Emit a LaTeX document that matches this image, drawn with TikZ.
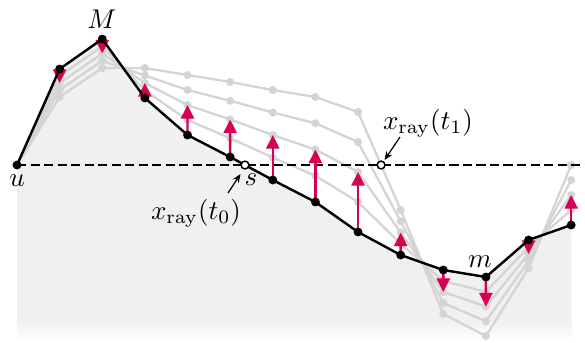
\documentclass[tikz,border=0pt]{standalone}
\usetikzlibrary{calc,arrows.meta}
\definecolor{fillgray}{RGB}{240,240,240}
\definecolor{linegray}{RGB}{212,212,212}
\definecolor{arrred}{RGB}{214,0,84}
\tikzset{
  grayline/.style={draw=linegray,line width=0.85pt,line join=round},
  graydot/.style={fill=linegray},
  blackline/.style={draw=black,line width=0.9pt,line join=round},
  redarrow/.style={draw=arrred,line width=0.9pt,-{Triangle[width=4.8pt,length=5pt]}},
  rayline/.style={draw=black,line width=0.65pt,dash pattern=on 3.4pt off 1.6pt},
  opendot/.style={draw=black,fill=white,line width=0.55pt},
  pointer/.style={draw=black,line width=0.45pt,-{Stealth[length=3.2pt,width=2.6pt]}},
  lbl/.style={inner sep=0pt}
}
\begin{document}
\begin{tikzpicture}[x=0.37pt,y=-0.37pt]
\useasboundingbox (0,0) rectangle (585,342);
% black polyline (b) and target polyline (t)
\foreach \bb/\tt [count=\i from 0] in {165/165,69/97,39/68,98/68,135/75,157/82,180/90,202/97,232/112,255/210,270/314,277/336,240/268,225/165}{
  \coordinate (b\i) at ({17+42.63*\i},\bb);
  \coordinate (t\i) at ({17+42.63*\i},\tt);
}
\foreach \k in {1,...,4}{
  \foreach \i in {0,...,13}{
    \coordinate (g\k-\i) at ($(b\i)!\k/4!(t\i)$);
  }
}
% background fill
\fill[fillgray] (b0) \foreach \i in {1,...,13}{ -- (b\i)} -- (571.6,321) -- (17,321) -- cycle;
\shade[top color=fillgray,bottom color=white,draw=none] (17,320.5) rectangle (571.6,340);
% gray intermediate lines
\foreach \k in {4,3,2,1}{
  \draw[grayline] (g\k-0) \foreach \i in {1,...,13}{ -- (g\k-\i)};
  \foreach \i in {1,...,13}{ \fill[graydot] (g\k-\i) circle[radius=1.5pt]; }
}
% ray
\coordinate (rayend) at (585,165);
\draw[rayline] (b0) -- (rayend);
% red arrows
\foreach \i in {1,...,13}{ \draw[redarrow] (b\i) -- (g2-\i); }
% black line
\draw[blackline] (b0) \foreach \i in {1,...,13}{ -- (b\i)};
\foreach \i in {0,...,13}{ \fill (b\i) circle[radius=1.65pt]; }
% intersection points
\coordinate (s) at (intersection of b5--b6 and b0--rayend);
\coordinate (x1) at (intersection of t8--t9 and b0--rayend);
\filldraw[opendot] (s) circle[radius=1.45pt];
\filldraw[opendot] (x1) circle[radius=1.45pt];
% labels
\node[lbl] (Mlab) at (102,19) {$M$};
\node[lbl] (ulab) at (17,181) {$u$};
\node[lbl] (mlab) at (480,262) {$m$};
\node[lbl] (slab) at (251,180) {$s$};
\node[lbl] (t0lab) at (196,213) {$x_{\mathrm{ray}}(t_0)$};
\node[lbl] (t1lab) at (428,123) {$x_{\mathrm{ray}}(t_1)$};
\coordinate (p0) at (228,193);
\coordinate (p0e) at (240.5,174);
\coordinate (p1) at (400,137);
\coordinate (p1e) at (384.5,160);
\draw[pointer] (p0) -- (p0e);
\draw[pointer] (p1) -- (p1e);
\end{tikzpicture}
\end{document}
